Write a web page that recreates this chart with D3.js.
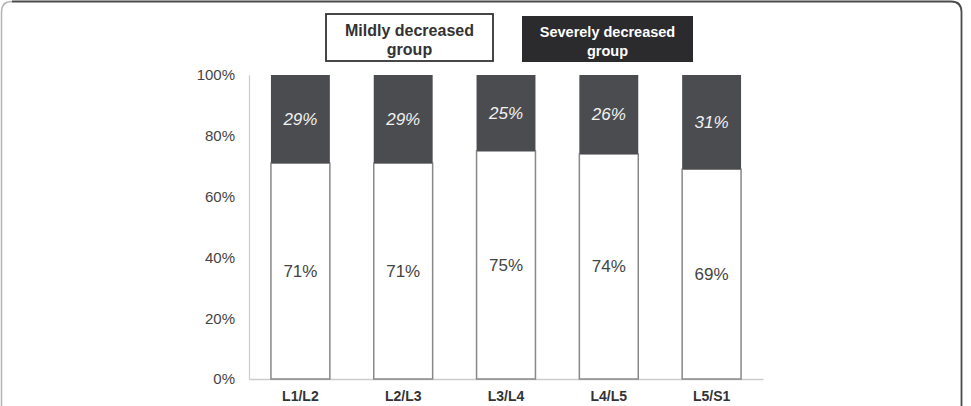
<!DOCTYPE html>
<html>
<head>
<meta charset="utf-8">
<script src="https://cdn.jsdelivr.net/npm/d3@7"></script>
<style>
  body { margin: 0; background: #fff; }
  svg { display: block; font-family: "Liberation Sans", Arial, sans-serif; }
</style>
</head>
<body>
<div id="chart"></div>
<script>
const levels = ["L1/L2", "L2/L3", "L3/L4", "L4/L5", "L5/S1"];
const mild = [71, 71, 75, 74, 69];
const severe = [29, 29, 25, 26, 31];
const yTicks = [0, 20, 40, 60, 80, 100];
const legendItems = [
  { lines: ["Mildly decreased", "group"], fill: "#fff", text: "#333" },
  { lines: ["Severely decreased", "group"], fill: "#2b2b2e", text: "#fff" },
];

const W = 971, H = 406;
const svg = d3.select("#chart").append("svg").attr("width", W).attr("height", H);

// outer frame
svg.append("path")
  .attr("d", "M1.5,420 L1.5,12 Q1.5,1.5 12,1.5")
  .attr("fill", "none").attr("stroke", "#b5b5b5").attr("stroke-width", 1.5);
svg.append("path")
  .attr("d", "M12,1.5 L951,1.5 Q961.5,1.5 961.5,12 L961.5,420")
  .attr("fill", "none").attr("stroke", "#4a4a4a").attr("stroke-width", 1.8);

const x = d3.scaleBand().domain(levels).range([249, 763]).paddingInner(0.427).paddingOuter(0.2135);
const y = d3.scaleLinear().domain([0, 100]).range([379, 75]);

// y axis
const yAxis = svg.append("g").attr("transform", "translate(249,0)")
  .call(d3.axisLeft(y).tickValues(yTicks).tickSize(0).tickPadding(14).tickFormat(d => d + "%"));
yAxis.select(".domain").attr("stroke", "#ccc").attr("stroke-width", 1.2);
yAxis.selectAll("text").attr("font-size", 15).attr("fill", "#444")
  .attr("font-family", "Liberation Sans, Arial, sans-serif");

// x axis
const xAxis = svg.append("g").attr("transform", "translate(0,379)")
  .call(d3.axisBottom(x).tickSize(0).tickPadding(12));
xAxis.select(".domain").attr("stroke", "#ccc").attr("stroke-width", 1.5);
xAxis.selectAll("text").attr("font-size", 14).attr("font-weight", "bold").attr("fill", "#333")
  .attr("font-family", "Liberation Sans, Arial, sans-serif");

const rows = levels.map((l, i) => ({ level: l, mild: mild[i], severe: severe[i] }));

// mild segments (bottom, white)
svg.selectAll("rect.mild").data(rows).enter().append("rect")
  .attr("class", "mild")
  .attr("x", d => x(d.level))
  .attr("width", x.bandwidth())
  .attr("y", d => y(d.mild))
  .attr("height", d => y(0) - y(d.mild))
  .attr("fill", "#fff").attr("stroke", "#888").attr("stroke-width", 1.5);

// severe segments (top, dark)
svg.selectAll("rect.severe").data(rows).enter().append("rect")
  .attr("class", "severe")
  .attr("x", d => x(d.level))
  .attr("width", x.bandwidth())
  .attr("y", d => y(d.mild + d.severe))
  .attr("height", d => y(d.mild) - y(d.mild + d.severe))
  .attr("fill", "#4b4c50");

svg.selectAll("text.mildLab").data(rows).enter().append("text")
  .attr("x", d => x(d.level) + x.bandwidth() / 2)
  .attr("y", d => (y(0) + y(d.mild)) / 2)
  .attr("dy", "0.35em").attr("text-anchor", "middle")
  .attr("font-size", 17).attr("fill", "#444")
  .text(d => d.mild + "%");

svg.selectAll("text.sevLab").data(rows).enter().append("text")
  .attr("x", d => x(d.level) + x.bandwidth() / 2)
  .attr("y", d => (y(d.mild) + y(d.mild + d.severe)) / 2)
  .attr("dy", "0.35em").attr("text-anchor", "middle")
  .attr("font-size", 17).attr("font-style", "italic").attr("fill", "#f2f2f2")
  .text(d => d.severe + "%");

// legend boxes
const boxes = [{ x: 326, y: 14, w: 167, h: 47 }, { x: 522, y: 16, w: 171, h: 46 }];
legendItems.forEach((it, i) => {
  const b = boxes[i];
  const g = svg.append("g");
  g.append("rect").attr("x", b.x).attr("y", b.y).attr("width", b.w).attr("height", b.h)
    .attr("fill", it.fill)
    .attr("stroke", i === 0 ? "#333" : "none").attr("stroke-width", 1.8);
  it.lines.forEach((t, j) => {
    g.append("text")
      .attr("x", b.x + b.w / 2)
      .attr("y", b.y + 16 + j * 19)
      .attr("dy", "0.35em").attr("text-anchor", "middle")
      .attr("font-size", i === 0 ? 16 : 14.5).attr("font-weight", "bold").attr("fill", it.text)
      .text(t);
  });
});
</script>
</body>
</html>
